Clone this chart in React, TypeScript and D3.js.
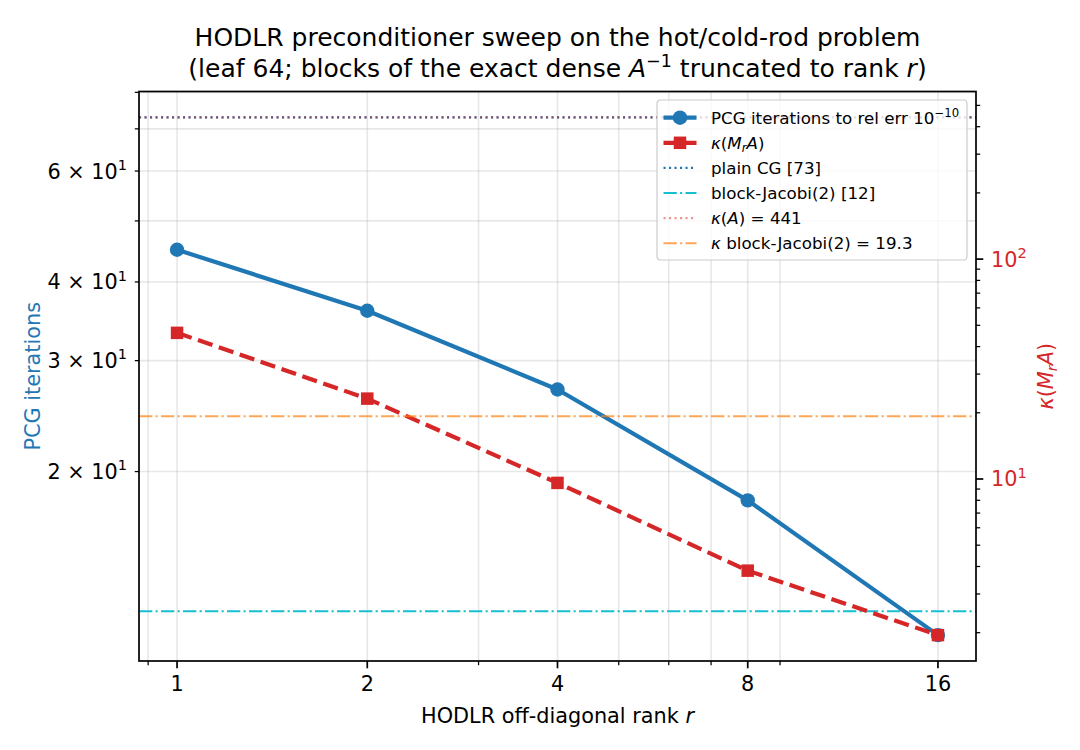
import * as d3 from "d3";
import { useEffect, useRef } from "react";

// HODLR rank sweep: PCG iteration counts and condition numbers
const ranks = [1, 2, 4, 8, 16];
const pcgIterations = [45, 36, 27, 18, 11];
const kappaValues = [46.2, 23.2, 9.6, 3.83, 1.95];

// reference levels
const plainCgIterations = 73;
const blockJacobiIterations = 12;
const kappaA = 441;
const kappaBlockJacobi = 19.3;

// tick positions
const xMajorTicks = [1, 2, 4, 8, 16];
const xMinorTicks = [0.9, 3, 5, 6, 7, 9];
const leftTicks = [20, 30, 40, 50, 60, 70, 80];
const leftLabelled = [20, 30, 40, 60];
const rightMajorTicks = [10, 100];
const rightMinorTicks = [2, 3, 4, 5, 6, 7, 8, 9, 20, 30, 40, 50, 60, 70, 80, 90, 200, 300, 400, 500];

const BLUE = "#1f77b4";
const RED = "#d62728";
const CYAN = "#17becf";
const ORANGE = "#ff7f0e";

type Seg = { t: string; it?: boolean; sup?: boolean; sub?: boolean };

// pad a log-scaled extent by 5% on each side, like matplotlib's autoscale
const logPad = (vals: number[], frac = 0.05): [number, number] => {
  const lo = Math.log10(d3.min(vals)!);
  const hi = Math.log10(d3.max(vals)!);
  const m = (hi - lo) * frac;
  return [10 ** (lo - m), 10 ** (hi + m)];
};

const richText = (
  text: d3.Selection<SVGTextElement, unknown, null, undefined>,
  segs: Seg[],
  size: number
) => {
  let shift = 0;
  segs.forEach((s) => {
    const target = s.sup ? -0.42 * size : s.sub ? 0.2 * size : 0;
    const span = text.append("tspan").text(s.t).attr("dy", target - shift);
    if (s.sup || s.sub) span.attr("font-size", size * 0.7);
    if (s.it) span.attr("font-style", "italic");
    shift = target;
  });
};

const kappaLabel: Seg[] = [
  { t: "κ", it: true },
  { t: "(" },
  { t: "M", it: true },
  { t: "r", it: true, sub: true },
  { t: "A", it: true },
  { t: ")" },
];

const App = () => {
  const ref = useRef<SVGSVGElement | null>(null);

  useEffect(() => {
    if (!ref.current) return;
    const svg = d3.select(ref.current);
    svg.selectAll("*").remove();

    const width = 1080;
    const height = 750;
    const left = 139;
    const right = 976;
    const top = 91.5;
    const bottom = 661;
    const font = "DejaVu Sans";
    const tickSize = 20.8;

    svg.attr("width", width).attr("height", height).attr("font-family", font);
    svg.append("rect").attr("width", width).attr("height", height).attr("fill", "white");

    const x = d3.scaleLog().domain(logPad(ranks)).range([left, right]);
    const yL = d3
      .scaleLog()
      .domain(logPad([...pcgIterations, plainCgIterations, blockJacobiIterations]))
      .range([bottom, top]);
    const yR = d3
      .scaleLog()
      .domain(logPad([...kappaValues, kappaA, kappaBlockJacobi]))
      .range([bottom, top]);

    // grid (both major and minor)
    const grid = svg.append("g").attr("stroke", "#b0b0b0").attr("stroke-opacity", 0.3).attr("stroke-width", 1.6);
    grid
      .selectAll("line.gx")
      .data([...xMajorTicks, ...xMinorTicks])
      .join("line")
      .attr("x1", (d) => x(d))
      .attr("x2", (d) => x(d))
      .attr("y1", top)
      .attr("y2", bottom);
    grid
      .selectAll("line.gy")
      .data(leftTicks)
      .join("line")
      .attr("x1", left)
      .attr("x2", right)
      .attr("y1", (d) => yL(d))
      .attr("y2", (d) => yL(d));

    const hline = (y: number, color: string, dash: string, opacity = 1) =>
      svg
        .append("line")
        .attr("x1", left)
        .attr("x2", right)
        .attr("y1", y)
        .attr("y2", y)
        .attr("stroke", color)
        .attr("stroke-width", 2.1)
        .attr("stroke-dasharray", dash)
        .attr("stroke-opacity", opacity);

    const dotted = "2.1,3.4";
    const dashDot = "13.3,3.3,2.1,3.3";

    // left-axis reference levels
    hline(yL(plainCgIterations), BLUE, dotted);
    hline(yL(blockJacobiIterations), CYAN, dashDot);

    // PCG iteration curve
    const itLine = d3
      .line<number>()
      .x((_, i) => x(ranks[i]))
      .y((d) => yL(d));
    svg
      .append("path")
      .attr("d", itLine(pcgIterations))
      .attr("fill", "none")
      .attr("stroke", BLUE)
      .attr("stroke-width", 4.2)
      .attr("stroke-linejoin", "round");
    svg
      .append("g")
      .selectAll("circle")
      .data(pcgIterations)
      .join("circle")
      .attr("cx", (_, i) => x(ranks[i]))
      .attr("cy", (d) => yL(d))
      .attr("r", 7.2)
      .attr("fill", BLUE);

    // condition number curve (right axis)
    const kLine = d3
      .line<number>()
      .x((_, i) => x(ranks[i]))
      .y((d) => yR(d));
    svg
      .append("path")
      .attr("d", kLine(kappaValues))
      .attr("fill", "none")
      .attr("stroke", RED)
      .attr("stroke-width", 4.2)
      .attr("stroke-dasharray", "15.4,6.7");
    const sq = 12.5;
    svg
      .append("g")
      .selectAll("rect")
      .data(kappaValues)
      .join("rect")
      .attr("x", (_, i) => x(ranks[i]) - sq / 2)
      .attr("y", (d) => yR(d) - sq / 2)
      .attr("width", sq)
      .attr("height", sq)
      .attr("fill", RED);

    // right-axis reference levels
    hline(yR(kappaA), RED, dotted, 0.5);
    hline(yR(kappaBlockJacobi), ORANGE, dashDot, 0.7);

    // frame
    svg
      .append("rect")
      .attr("x", left)
      .attr("y", top)
      .attr("width", right - left)
      .attr("height", bottom - top)
      .attr("fill", "none")
      .attr("stroke", "black")
      .attr("stroke-width", 1.7);

    const ticks = svg.append("g").attr("stroke", "black");
    // x ticks
    xMajorTicks.forEach((t) => {
      ticks.append("line").attr("x1", x(t)).attr("x2", x(t)).attr("y1", bottom).attr("y2", bottom + 7.3).attr("stroke-width", 1.7);
      svg
        .append("text")
        .attr("x", x(t))
        .attr("y", bottom + 30)
        .attr("text-anchor", "middle")
        .attr("font-size", tickSize)
        .text(String(t));
    });
    xMinorTicks.forEach((t) => {
      ticks.append("line").attr("x1", x(t)).attr("x2", x(t)).attr("y1", bottom).attr("y2", bottom + 4.2).attr("stroke-width", 1.25);
    });

    // left ticks
    leftTicks.forEach((t) => {
      ticks.append("line").attr("x1", left).attr("x2", left - 4.2).attr("y1", yL(t)).attr("y2", yL(t)).attr("stroke-width", 1.25);
    });
    leftLabelled.forEach((t) => {
      const txt = svg
        .append("text")
        .attr("x", left - 12)
        .attr("y", yL(t) + 7.5)
        .attr("text-anchor", "end")
        .attr("font-size", tickSize);
      richText(txt, [{ t: `${t / 10} × 10` }, { t: "1", sup: true }], tickSize);
    });

    // right ticks
    rightMajorTicks.forEach((t) => {
      ticks.append("line").attr("x1", right).attr("x2", right + 7.3).attr("y1", yR(t)).attr("y2", yR(t)).attr("stroke-width", 1.7);
      const txt = svg
        .append("text")
        .attr("x", right + 15)
        .attr("y", yR(t) + 7.5)
        .attr("fill", RED)
        .attr("font-size", tickSize);
      richText(txt, [{ t: "10" }, { t: String(Math.round(Math.log10(t))), sup: true }], tickSize);
    });
    rightMinorTicks.forEach((t) => {
      ticks.append("line").attr("x1", right).attr("x2", right + 4.2).attr("y1", yR(t)).attr("y2", yR(t)).attr("stroke-width", 1.25);
    });

    // axis labels
    const xl = svg.append("text").attr("x", (left + right) / 2).attr("y", 723).attr("text-anchor", "middle").attr("font-size", tickSize);
    richText(xl, [{ t: "HODLR off-diagonal rank " }, { t: "r", it: true }], tickSize);

    svg
      .append("text")
      .attr("transform", `translate(40,${(top + bottom) / 2}) rotate(-90)`)
      .attr("text-anchor", "middle")
      .attr("font-size", tickSize)
      .attr("fill", BLUE)
      .text("PCG iterations");

    const yr = svg
      .append("text")
      .attr("transform", `translate(1053,${(top + bottom) / 2}) rotate(-90)`)
      .attr("text-anchor", "middle")
      .attr("font-size", tickSize)
      .attr("fill", RED);
    richText(yr, kappaLabel, tickSize);

    // title
    const titleSize = 25;
    svg
      .append("text")
      .attr("x", (left + right) / 2)
      .attr("y", 46)
      .attr("text-anchor", "middle")
      .attr("font-size", titleSize)
      .text("HODLR preconditioner sweep on the hot/cold-rod problem");
    const t2 = svg.append("text").attr("x", (left + right) / 2).attr("y", 77).attr("text-anchor", "middle").attr("font-size", titleSize);
    richText(
      t2,
      [
        { t: "(leaf 64; blocks of the exact dense " },
        { t: "A", it: true },
        { t: "−1", sup: true },
        { t: " truncated to rank " },
        { t: "r", it: true },
        { t: ")" },
      ],
      titleSize
    );

    // legend
    const lgSize = 16.7;
    const lg = svg.append("g").attr("transform", "translate(657,100)");
    lg.append("rect")
      .attr("width", 310)
      .attr("height", 160)
      .attr("rx", 3.5)
      .attr("fill", "white")
      .attr("fill-opacity", 0.8)
      .attr("stroke", "#cccccc")
      .attr("stroke-width", 1.2);

    const items: { label: Seg[]; color: string; width: number; dash?: string; opacity?: number; marker?: "circle" | "square" }[] = [
      { label: [{ t: "PCG iterations to rel err 10" }, { t: "−10", sup: true }], color: BLUE, width: 4.2, marker: "circle" },
      { label: kappaLabel, color: RED, width: 4.2, dash: "15.4,6.7", marker: "square" },
      { label: [{ t: "plain CG [73]" }], color: BLUE, width: 2.1, dash: dotted },
      { label: [{ t: "block-Jacobi(2) [12]" }], color: CYAN, width: 2.1, dash: dashDot },
      { label: [{ t: "κ", it: true }, { t: "(" }, { t: "A", it: true }, { t: ") = 441" }], color: RED, width: 2.1, dash: dotted, opacity: 0.5 },
      { label: [{ t: "κ", it: true }, { t: " block-Jacobi(2) = 19.3" }], color: ORANGE, width: 2.1, dash: dashDot, opacity: 0.7 },
    ];
    items.forEach((it, i) => {
      const cy = 17.7 + i * 25.1;
      const row = lg.append("g");
      row
        .append("line")
        .attr("x1", 6.5)
        .attr("x2", 39.5)
        .attr("y1", cy)
        .attr("y2", cy)
        .attr("stroke", it.color)
        .attr("stroke-width", it.width)
        .attr("stroke-dasharray", it.dash ?? null)
        .attr("stroke-opacity", it.opacity ?? 1);
      if (it.marker === "circle") row.append("circle").attr("cx", 23).attr("cy", cy).attr("r", 7.2).attr("fill", it.color);
      if (it.marker === "square")
        row.append("rect").attr("x", 23 - sq / 2).attr("y", cy - sq / 2).attr("width", sq).attr("height", sq).attr("fill", it.color);
      const txt = row.append("text").attr("x", 54).attr("y", cy + 6).attr("font-size", lgSize);
      richText(txt, it.label, lgSize);
    });
  }, []);

  return <svg ref={ref} style={{ position: "absolute", left: 0, top: 0 }}></svg>;
};

export default App;
